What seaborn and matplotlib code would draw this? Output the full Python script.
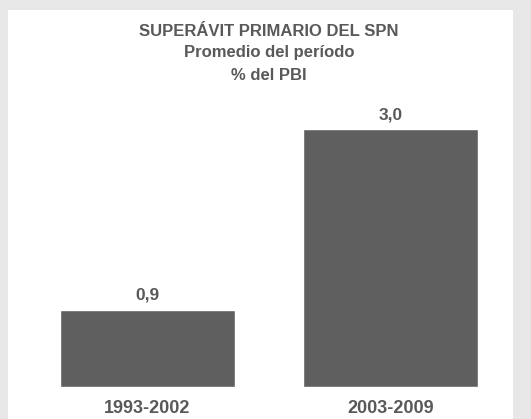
import matplotlib
matplotlib.use("Agg")
import matplotlib.pyplot as plt
import matplotlib.patches as mpatches
import seaborn as sns
import pandas as pd

# data
periodos = ["1993-2002", "2003-2009"]
superavit = [0.9, 3.0]
titulo = ["SUPERÁVIT PRIMARIO DEL SPN", "Promedio del período", "% del PBI"]

df = pd.DataFrame({"periodo": periodos, "valor": superavit})

sns.set_style("white")
plt.rcParams["font.family"] = ["Liberation Sans", "DejaVu Sans"]

W, H = 531, 419
fig = plt.figure(figsize=(W / 100, H / 100), dpi=100, facecolor="#e7e7e7")

# white panel
fig.add_artist(mpatches.Rectangle((8 / W, 0), (513 - 8) / W, (H - 10) / H,
                                  transform=fig.transFigure, facecolor="white",
                                  edgecolor="none", zorder=0))

# axes from baseline (y=387) up to panel top (y=10)
ax = fig.add_axes([8 / W, (H - 387) / H, (513 - 8) / W, (387 - 10) / H])
ax.set_facecolor("none")

bar_col = "#5f5f5f"
txt_col = "#595959"

sns.barplot(data=df, x="periodo", y="valor", color=bar_col, saturation=1,
            width=0.72, ax=ax, zorder=2)

px_per_unit = 86.0
ax.set_ylim(0, (387 - 10) / px_per_unit)
ax.set_xlim(-139.5 / 243, (505 - 139.5) / 243)

ax.bar_label(ax.containers[0], labels=[f"{v:.1f}".replace(".", ",") for v in superavit],
             padding=5, fontsize=12.5, fontweight="bold", color=txt_col)

for s in ax.spines.values():
    s.set_visible(False)
ax.set_yticks([])
ax.set_xlabel("")
ax.set_ylabel("")
ax.tick_params(axis="x", length=0, pad=9, labelsize=13, labelcolor=txt_col)
for lbl in ax.get_xticklabels():
    lbl.set_fontweight("bold")

# title lines
for t, ypx in zip(titulo, [32, 53, 75]):
    ax.text(0.5, (387 - ypx) / px_per_unit, t, ha="center", va="center",
            fontsize=12, fontweight="bold", color=txt_col)

fig.savefig("out.png", dpi=100, facecolor=fig.get_facecolor())
